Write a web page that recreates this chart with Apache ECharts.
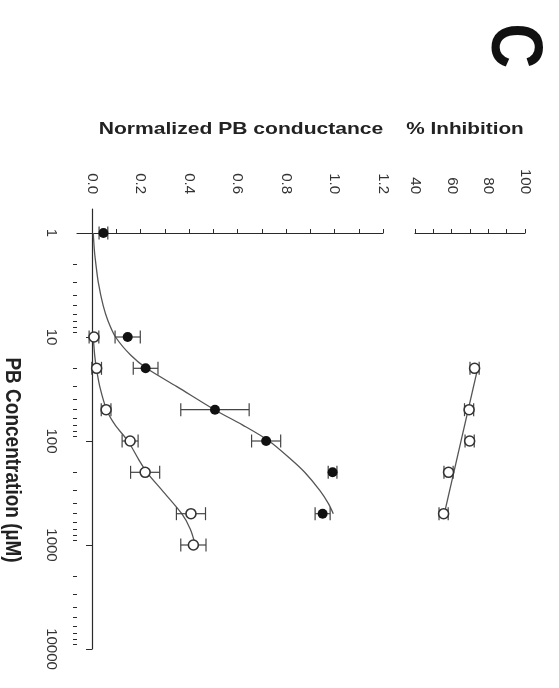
<!DOCTYPE html>
<html><head><meta charset="utf-8">
<script src="https://cdn.jsdelivr.net/npm/echarts@6/dist/echarts.min.js"></script>
<style>html,body{margin:0;padding:0;background:#fff}#c{width:559px;height:688px}</style>
</head><body><div id="c"></div>
<script>
// ---- tick labels ----
const concTicks = [1, 10, 100, 1000, 10000];
const condTicks = [0.0, 0.2, 0.4, 0.6, 0.8, 1.0, 1.2];
const condMinorTicks = [0.0, 0.1, 0.2, 0.3, 0.4, 0.5, 0.6, 0.7, 0.8, 0.9, 1.0, 1.1, 1.2];
const inhibTicks = [40, 60, 80, 100];
const inhibMinorTicks = [40, 50, 60, 70, 80, 90, 100];

// ---- Normalized PB conductance: filled circles ----
const filledConc = [1, 10, 20, 50, 100, 200, 500];
const filledMean = [0.047, 0.147, 0.221, 0.507, 0.718, 0.992, 0.951];
const filledErr  = [0.018, 0.052, 0.051, 0.141, 0.060, 0.018, 0.031];
// ---- open circles ----
const openConc = [10, 20, 50, 100, 200, 500, 1000];
const openMean = [0.008, 0.019, 0.058, 0.157, 0.219, 0.408, 0.418];
const openErr  = [0.020, 0.020, 0.020, 0.033, 0.060, 0.060, 0.052];
// ---- fitted curves ----
const filledFitConc = [1, 1.5, 2, 3, 5, 7, 10, 15, 20, 30, 50, 70, 100, 150, 200, 300, 400, 500];
const filledFitVal  = [0.005, 0.010, 0.016, 0.026, 0.046, 0.066, 0.097, 0.160, 0.225, 0.350, 0.505, 0.620, 0.730, 0.820, 0.877, 0.940, 0.975, 0.995];
const openFitConc = [10, 15, 20, 30, 50, 70, 100, 150, 200, 300, 500, 700, 1000];
const openFitVal  = [0.005, 0.011, 0.018, 0.032, 0.060, 0.095, 0.148, 0.192, 0.226, 0.290, 0.370, 0.405, 0.426];
// ---- % Inhibition ----
const inhibConc = [20, 50, 100, 200, 500];
const inhibMean = [72.5, 69.5, 69.8, 58.3, 55.6];
const inhibErr  = [2.5, 2.5, 2.5, 2.5, 2.5];
const inhibFitConc = [20, 500];
const inhibFitVal  = [74.2, 56.0];

const L = Math.log10;
const INK = '#2a2a2a';
const FONT = '"Liberation Sans", Arial, sans-serif';

const majorLog = concTicks.map(L);
const minorLog = [];
for (let d = 0; d < 4; d++) for (let k = 2; k <= 9; k++) minorLog.push(d + L(k));

function errData(conc, mean, err) {
  return conc.map((c, i) => [mean[i] - err[i], mean[i] + err[i], L(c)]);
}
function pts(conc, vals) { return conc.map((c, i) => [vals[i], L(c)]); }

function errRender(params, api) {
  const y = api.value(2);
  const a = api.coord([api.value(0), y]);
  const b = api.coord([api.value(1), y]);
  const h = 6.5;
  const st = { stroke: '#444', lineWidth: 1.2 };
  return { type: 'group', children: [
    { type: 'line', shape: { x1: a[0], y1: a[1], x2: b[0], y2: b[1] }, style: st },
    { type: 'line', shape: { x1: a[0], y1: a[1] - h, x2: a[0], y2: a[1] + h }, style: st },
    { type: 'line', shape: { x1: b[0], y1: b[1] - h, x2: b[0], y2: b[1] + h }, style: st }
  ]};
}

const yMin = -0.2308, yMax = 4;
const axLine = { show: true, lineStyle: { color: INK, width: 1.2 } };
const tickStyle = { color: INK, width: 1 };
const labelBase = { color: '#333', fontSize: 15, fontFamily: FONT, rotate: -90 };

const option = {
  animation: false,
  backgroundColor: '#fff',
  grid: [
    { left: 77, top: 209, width: 306, height: 440 },
    { left: 415, top: 209, width: 110, height: 440 }
  ],
  xAxis: [
    { gridIndex: 0, type: 'value', position: 'top', min: -0.062, max: 1.2,
      axisLine: axLine, splitLine: { show: false },
      axisTick: { show: true, customValues: condMinorTicks, length: 4, lineStyle: tickStyle },
      axisLabel: Object.assign({ customValues: condTicks, margin: 15, formatter: v => v.toFixed(1) }, labelBase) },
    { gridIndex: 1, type: 'value', position: 'top', min: 40, max: 100,
      axisLine: axLine, splitLine: { show: false },
      axisTick: { show: true, customValues: inhibMinorTicks, length: 4, lineStyle: tickStyle },
      axisLabel: Object.assign({ customValues: inhibTicks, margin: 15, formatter: v => String(v) }, labelBase) }
  ],
  yAxis: [
    { gridIndex: 0, type: 'value', inverse: true, min: yMin, max: yMax, position: 'left',
      axisLine: axLine, splitLine: { show: false },
      axisTick: { show: true, customValues: majorLog, length: 6, lineStyle: tickStyle },
      axisLabel: Object.assign({ customValues: majorLog, margin: 18,
        formatter: v => String(concTicks[Math.round(v)]) }, labelBase) },
    { gridIndex: 0, type: 'value', inverse: true, min: yMin, max: yMax, position: 'left',
      axisLine: { show: false }, splitLine: { show: false }, axisLabel: { show: false },
      axisTick: { show: true, customValues: minorLog, length: 4, lineStyle: tickStyle } },
    { gridIndex: 1, type: 'value', inverse: true, min: yMin, max: yMax, show: false }
  ],
  series: [
    { type: 'line', xAxisIndex: 0, yAxisIndex: 0, data: pts(filledFitConc, filledFitVal),
      smooth: 0.3, showSymbol: false, lineStyle: { color: '#555', width: 1.3 }, z: 2 },
    { type: 'line', xAxisIndex: 0, yAxisIndex: 0, data: pts(openFitConc, openFitVal),
      smooth: 0.3, showSymbol: false, lineStyle: { color: '#555', width: 1.3 }, z: 2 },
    { type: 'line', xAxisIndex: 1, yAxisIndex: 2, data: pts(inhibFitConc, inhibFitVal),
      showSymbol: false, lineStyle: { color: '#555', width: 1.3 }, z: 2 },
    { type: 'custom', xAxisIndex: 0, yAxisIndex: 0, renderItem: errRender,
      data: errData(filledConc, filledMean, filledErr), encode: { x: [0, 1], y: 2 }, z: 3 },
    { type: 'custom', xAxisIndex: 0, yAxisIndex: 0, renderItem: errRender,
      data: errData(openConc, openMean, openErr), encode: { x: [0, 1], y: 2 }, z: 3 },
    { type: 'custom', xAxisIndex: 1, yAxisIndex: 2, renderItem: errRender,
      data: errData(inhibConc, inhibMean, inhibErr), encode: { x: [0, 1], y: 2 }, z: 3 },
    { type: 'scatter', xAxisIndex: 0, yAxisIndex: 0, data: pts(filledConc, filledMean),
      symbol: 'circle', symbolSize: 10, itemStyle: { color: '#111', opacity: 1 }, z: 4 },
    { type: 'scatter', xAxisIndex: 0, yAxisIndex: 0, data: pts(openConc, openMean),
      symbol: 'circle', symbolSize: 10, itemStyle: { color: '#fff', borderColor: '#333', borderWidth: 1.6, opacity: 1 }, z: 4 },
    { type: 'scatter', xAxisIndex: 1, yAxisIndex: 2, data: pts(inhibConc, inhibMean),
      symbol: 'circle', symbolSize: 10, itemStyle: { color: '#fff', borderColor: '#333', borderWidth: 1.6, opacity: 1 }, z: 4 }
  ],
  graphic: [
    { type: 'text', x: 512, y: 46, rotation: -Math.PI / 2, scaleY: 1.15,
      style: { text: 'C', fontSize: 62, fontWeight: 'bold', fontFamily: FONT, fill: '#111',
        align: 'center', verticalAlign: 'middle' } },
    { type: 'text', x: 241, y: 129, scaleX: 1.24,
      style: { text: 'Normalized PB conductance', fontSize: 17, fontWeight: 'bold', fontFamily: FONT, fill: '#222',
        align: 'center', verticalAlign: 'middle' } },
    { type: 'text', x: 465, y: 129, scaleX: 1.22,
      style: { text: '% Inhibition', fontSize: 17, fontWeight: 'bold', fontFamily: FONT, fill: '#222',
        align: 'center', verticalAlign: 'middle' } },
    { type: 'text', x: 12, y: 460, rotation: -Math.PI / 2, scaleY: 1.2,
      style: { text: 'PB Concentration (µM)', fontSize: 19, fontWeight: 'bold', fontFamily: FONT, fill: '#222',
        align: 'center', verticalAlign: 'middle' } }
  ]
};
const chart = echarts.init(document.getElementById('c'), null, { renderer: 'canvas' });
chart.setOption(option);
</script></body></html>
